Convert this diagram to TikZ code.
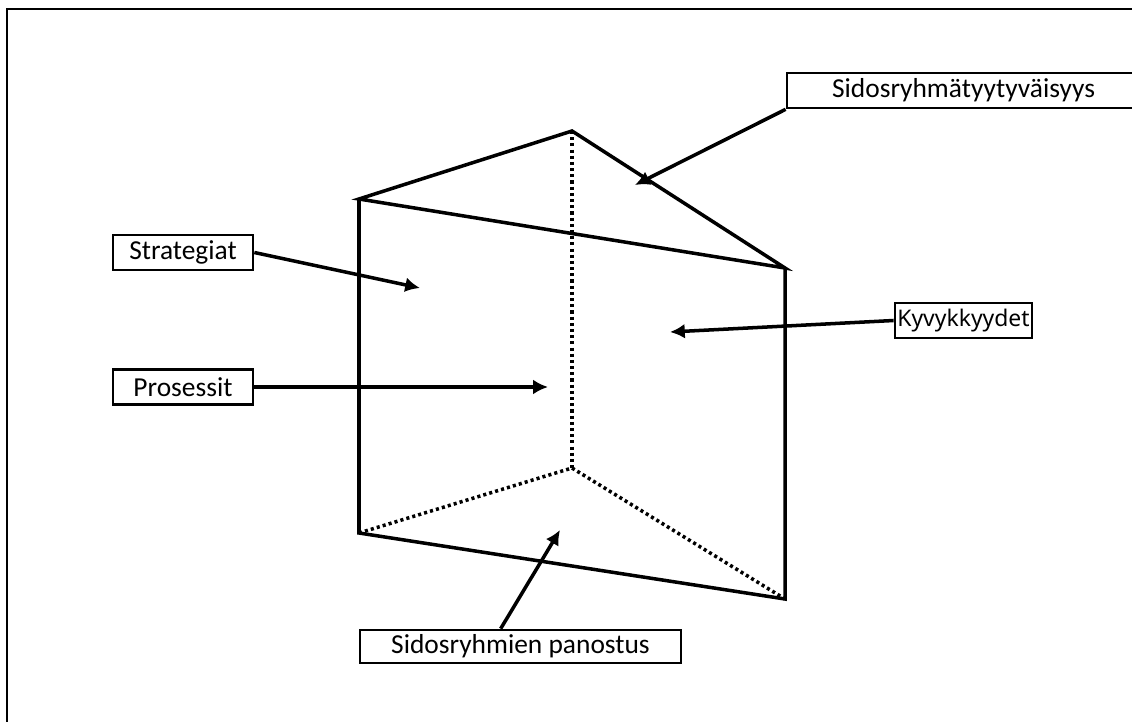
\documentclass[tikz,border=0pt]{standalone}
\usepackage{fontspec}
\setmainfont{Carlito}
\newfontfamily\kyvfont{Noto Sans}
\usetikzlibrary{arrows.meta}

\tikzset{
    labelbox/.style={draw, line width=1.9pt, inner sep=0pt, font=\fontsize{19.5}{23}\selectfont},
    edge/.style={line width=2.5pt, line join=miter},
    hidden/.style={line width=2.5pt, dash pattern=on 2.2pt off 2.2pt},
    pointer/.style={line width=2.5pt, -{Latex[length=10.5pt, width=10.5pt]}}
}

\begin{document}
\begin{tikzpicture}[x=0.025cm, y=-0.025cm]
    \useasboundingbox (0, 0) rectangle (1132, 722);
    \clip (0, 0) rectangle (1132, 722);
    \draw [line width=1.8pt] (7, 9) rectangle (1200, 800);

    % corners of the prism
    \coordinate (A) at (572, 131);
    \coordinate (B) at (359, 199);
    \coordinate (C) at (785, 268);
    \coordinate (D) at (572, 468);
    \coordinate (E) at (359, 533);
    \coordinate (F) at (785, 599);

    \draw [edge] (B) -- (A) -- (C) -- cycle;
    \draw [edge] (B) -- (E) -- (F) -- (C);
    \draw [hidden] (A) -- (D);
    \draw [hidden] (E) -- (D) -- (F);

    % labels
    \node[labelbox, minimum width=8.825cm, minimum height=0.875cm] (Sy) at (963.5, 90.5) {Sidosryhmätyytyväisyys};
    \node[labelbox, minimum width=3.5cm, minimum height=0.875cm] (St) at (183, 252.5) {Strategiat};
    \node[labelbox, minimum width=3.5cm, minimum height=0.875cm] (Pr) at (183, 387) {Prosessit};
    \node[labelbox, minimum width=3.425cm, minimum height=0.875cm, font=\kyvfont\fontsize{16.3}{20}\selectfont] (Ky) at (963.5, 320.5) {Kyvykkyydet};
    \node[labelbox, minimum width=8.025cm, minimum height=0.825cm] (Pa) at (520.5, 646.5) {Sidosryhmien panostus};

    \coordinate (sy) at (635, 185);
    \coordinate (st) at (420, 288);
    \coordinate (pr) at (548, 387);
    \coordinate (ky) at (670, 332);
    \coordinate (pa) at (560, 530);

    \draw [pointer] (Sy.south west) -- (sy);
    \draw [pointer] (St.east) -- (st);
    \draw [pointer] (Pr.east) -- (pr);
    \draw [pointer] (Ky.west) -- (ky);
    \draw [pointer] (Pa.138) -- (pa);
\end{tikzpicture}
\end{document}
